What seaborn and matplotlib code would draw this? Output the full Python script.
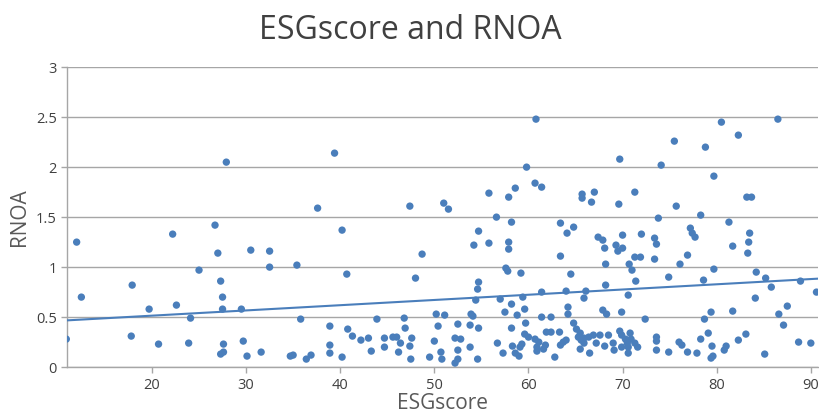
import numpy as np
import pandas as pd
import matplotlib
matplotlib.use("Agg")
import matplotlib.pyplot as plt
import seaborn as sns

# Valores
esg_score = [
    12.0, 12.5, 10.9, 17.9, 17.8, 19.7, 20.7, 22.2, 22.6, 23.9, 24.1,
    25.0, 26.7, 27.0, 27.3, 27.5, 27.5, 27.9, 27.6, 27.6, 27.3, 29.5, 29.7,
    30.1, 30.5, 31.6, 32.5, 32.5, 34.7, 35.0, 35.4, 35.8, 36.4, 36.9, 37.6,
    38.9, 38.9, 38.9,
    39.4, 40.2, 40.7, 40.2, 40.8, 41.3, 42.2, 43.0, 43.3, 43.9, 44.7, 44.7,
    45.6, 46.0, 46.4, 46.2, 46.8, 46.9, 47.4, 47.6, 47.4, 47.5, 48.0, 48.7,
    49.5, 50.0, 50.2, 50.4, 51.0, 51.5, 51.1, 50.7, 50.8, 52.2, 52.5, 52.5,
    52.2, 52.5, 52.8,
    53.8, 53.9, 54.1, 53.8, 54.7, 54.6, 54.4, 54.6, 54.7, 54.2, 54.7, 55.8,
    55.8, 56.6, 56.7, 57.0, 57.3, 57.5, 57.6, 57.8, 57.9, 57.9, 57.9, 58.2,
    58.6, 58.2, 58.2, 58.3, 58.6, 58.8, 59.0, 59.1, 59.2, 59.4, 59.3, 59.6,
    59.7, 59.6, 60.0, 59.8, 60.8, 60.7, 61.4, 60.7, 60.9, 61.1, 60.9, 61.4,
    61.4, 61.8, 61.6, 61.9, 62.4, 62.4, 62.8, 63.3, 63.4, 63.4, 63.4, 64.1,
    64.8, 64.0, 64.2, 64.2, 64.5, 63.7, 64.0, 64.8, 65.1, 65.3, 65.5, 65.6,
    65.7, 65.7, 66.7, 67.0, 65.9, 65.9, 66.1, 65.9, 65.5, 66.5, 66.4, 66.9,
    67.2, 67.4,
    67.9, 68.1, 68.2, 68.2, 67.9, 68.3, 67.6, 68.1, 68.5, 69.0, 69.1, 69.7,
    69.6, 70.0, 69.3, 69.5, 70.0, 70.6, 69.9, 70.7, 71.0, 71.3, 71.9, 71.4,
    71.3, 72.0, 69.7, 69.9, 70.3, 70.5, 70.8, 70.9, 70.6, 70.6, 69.9, 71.3,
    71.6, 72.4, 73.4, 73.6, 73.4, 73.8, 73.6, 73.6, 73.6, 74.1, 74.9, 74.9,
    75.5, 75.7, 76.1, 76.0, 76.3, 76.9, 76.9, 77.2, 77.4, 77.7, 77.9, 78.3,
    78.3, 78.6, 78.7, 78.8, 79.1, 79.4, 79.5, 79.4, 79.7, 79.7, 79.6,
    80.5, 82.3, 81.3, 81.7, 81.7, 80.8, 81.0, 82.3, 83.1, 83.2, 83.7, 83.5,
    83.4, 83.3, 84.1, 84.2, 85.2, 85.8, 85.1, 86.5, 86.6, 87.5, 87.1, 88.9,
    88.7, 90.0, 90.6,
]
rnoa = [
    1.25, 0.70, 0.28, 0.82, 0.31, 0.58, 0.23, 1.33, 0.62, 0.24, 0.49,
    0.97, 1.42, 1.14, 0.86, 0.70, 0.58, 2.05, 0.23, 0.15, 0.13, 0.58, 0.26,
    0.11, 1.17, 0.15, 1.16, 1.00, 0.11, 0.12, 1.02, 0.48, 0.08, 0.12, 1.59,
    0.41, 0.22, 0.14,
    2.14, 1.37, 0.93, 0.10, 0.38, 0.31, 0.27, 0.29, 0.16, 0.48, 0.29, 0.20,
    0.30, 0.30, 0.24, 0.15, 0.49, 0.39, 1.61, 0.29, 0.21, 0.08, 0.89, 1.13,
    0.10, 0.26, 0.53, 0.41, 1.64, 1.58, 0.52, 0.15, 0.08, 0.29, 0.43, 0.17,
    0.04, 0.08, 0.28,
    0.42, 0.53, 0.51, 0.20, 0.39, 0.08, 0.67, 0.78, 0.85, 1.22, 1.36, 1.24,
    1.74, 1.50, 0.24, 0.68, 0.14, 0.55, 0.99, 0.96, 1.70, 1.25, 1.18, 1.45,
    1.79, 0.63, 0.39, 0.21, 0.14, 0.52, 0.11, 0.20, 0.94, 0.70, 0.23, 0.58,
    0.44, 0.33, 0.30, 2.00, 2.48, 1.84, 1.80, 0.28, 0.20, 0.25, 0.16, 0.75,
    0.50, 0.22, 0.18, 0.35, 0.50, 0.35, 0.10, 0.35, 0.22, 1.11, 1.44, 1.34,
    1.40, 0.76, 0.60, 0.53, 0.93, 0.25, 0.27, 0.44, 0.38, 0.30, 0.34, 0.27,
    1.73, 1.69, 1.65, 1.75, 0.29, 0.24, 0.76, 0.69, 0.18, 0.14, 0.30, 0.32,
    0.24, 1.30,
    1.27, 1.19, 1.03, 0.82, 0.57, 0.53, 0.32, 0.21, 0.32, 0.24, 0.17, 2.08,
    1.63, 1.32, 1.22, 1.16, 1.19, 0.72, 0.55, 1.03, 0.97, 1.10, 1.10, 0.86,
    1.75, 1.33, 0.36, 0.32, 0.28, 0.24, 0.34, 0.28, 0.20, 0.14, 0.20, 0.24,
    0.20, 0.48, 1.29, 1.23, 1.08, 1.49, 0.30, 0.26, 0.17, 2.02, 0.90, 0.15,
    2.26, 1.61, 1.03, 0.25, 0.22, 1.12, 0.15, 1.39, 1.34, 1.30, 0.14, 1.52,
    0.28, 0.87, 0.48, 2.20, 0.34, 0.55, 0.21, 0.09, 1.91, 0.98, 0.11,
    2.45, 2.32, 1.45, 1.21, 0.56, 0.17, 0.21, 0.27, 0.33, 1.70, 1.70, 1.34,
    1.25, 1.14, 0.69, 0.95, 0.89, 0.80, 0.13, 2.48, 0.53, 0.61, 0.42, 0.86,
    0.25, 0.24, 0.75,
]
y_ticks = [0, 0.5, 1, 1.5, 2, 2.5, 3]
y_tick_labels = ["0", "0.5", "1", "1.5", "2", "2.5", "3"]
x_ticks = [20, 30, 40, 50, 60, 70, 80, 90]

df = pd.DataFrame({"ESGscore": esg_score, "RNOA": rnoa})

sns.set_style("white")
plt.rcParams["font.family"] = ["Open Sans", "DejaVu Sans"]

blue = "#4a7ebb"
grey = "#a6a6a6"

fig = plt.figure(figsize=(8.2, 4.12), dpi=100)
ax = fig.add_axes([0.082, 0.109, 0.916, 0.728])
ax.set_xlim(11, 90.8)
ax.set_ylim(0, 3)

sns.regplot(data=df, x="ESGscore", y="RNOA", ax=ax, ci=None, truncate=False,
            scatter_kws={"s": 28, "color": blue, "edgecolor": "none", "alpha": 1, "zorder": 3},
            line_kws={"color": blue, "lw": 1.5, "zorder": 4})

ax.set_xlim(11, 90.8)
ax.set_ylim(0, 3)
ax.set_yticks(y_ticks)
ax.set_yticklabels(y_tick_labels)
ax.set_xticks(x_ticks)
ax.yaxis.grid(True, color=grey, lw=1)
ax.xaxis.grid(False)
ax.set_axisbelow(True)
for s in ["top", "right"]:
    ax.spines[s].set_visible(False)
for s in ["left", "bottom"]:
    ax.spines[s].set_color(grey)
    ax.spines[s].set_linewidth(1)
ax.tick_params(axis="both", colors=grey, length=4, width=1, direction="out",
               labelcolor="#404040", labelsize=10.5, bottom=True, left=True)

ax.set_xlabel("ESGscore", fontsize=15, color="#595959", labelpad=0)
ax.set_ylabel("RNOA", fontsize=15, color="#595959", labelpad=4)
fig.suptitle("ESGscore and RNOA", fontsize=23, color="#404040", y=0.965)

plt.savefig("out.png", dpi=100)
